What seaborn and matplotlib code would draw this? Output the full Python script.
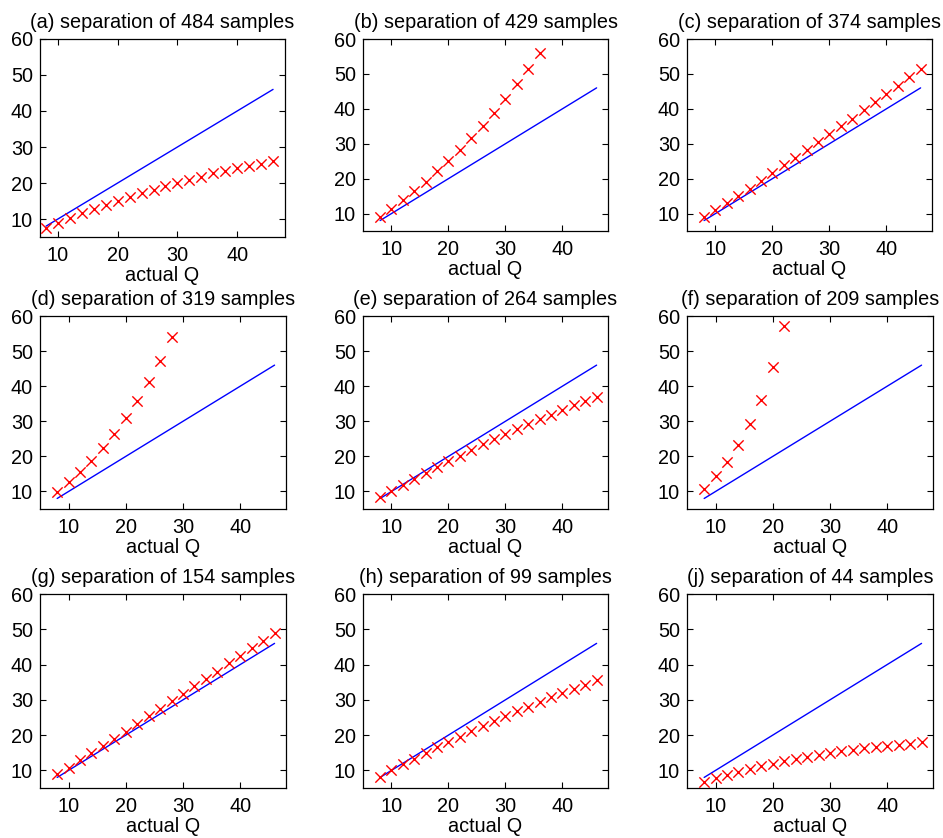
import matplotlib
matplotlib.use("Agg")
import matplotlib.pyplot as plt
import seaborn as sns
import pandas as pd

sns.set_style("ticks")
plt.rcParams['font.family'] = ['Liberation Sans', 'DejaVu Sans']
plt.rcParams['text.color'] = 'black'
plt.rcParams['axes.labelcolor'] = 'black'
plt.rcParams['xtick.color'] = 'black'
plt.rcParams['ytick.color'] = 'black'

# ---- data ----
actual_q = [8, 10, 12, 14, 16, 18, 20, 22, 24, 26, 28, 30, 32, 34, 36, 38, 40, 42, 44, 46]
ideal_x = [8, 46]
ideal_y = [8, 46]

titles = [
    "(a) separation of 484 samples",
    "(b) separation of 429 samples",
    "(c) separation of 374 samples",
    "(d) separation of 319 samples",
    "(e) separation of 264 samples",
    "(f) separation of 209 samples",
    "(g) separation of 154 samples",
    "(h) separation of 99 samples",
    "(j) separation of 44 samples",
]

est_a = [7.4, 8.9, 10.3, 11.7, 12.8, 14.0, 15.1, 16.2, 17.3, 18.1, 19.2, 20.1, 20.9, 21.8, 22.7, 23.3, 24.1, 24.8, 25.4, 26.1]
est_b = [9.0, 11.4, 13.9, 16.4, 19.1, 22.1, 25.1, 28.3, 31.5, 35.1, 38.9, 42.8, 47.0, 51.4, 56.1]
est_c = [8.9, 11.0, 13.0, 15.1, 17.1, 19.3, 21.5, 23.8, 26.0, 28.2, 30.5, 32.8, 35.0, 37.2, 39.6, 41.9, 44.2, 46.6, 49.0, 51.3]
est_d = [9.8, 12.7, 15.5, 18.7, 22.3, 26.4, 30.8, 35.7, 41.1, 47.3, 54.1]
est_e = [8.4, 10.2, 11.9, 13.6, 15.4, 17.0, 18.6, 20.2, 21.9, 23.4, 24.9, 26.4, 27.8, 29.2, 30.6, 31.9, 33.2, 34.5, 35.8, 37.0]
est_f = [10.8, 14.4, 18.3, 23.3, 29.1, 36.2, 45.4, 57.1]
est_g = [8.9, 10.8, 12.8, 14.9, 17.0, 19.0, 21.0, 23.2, 25.3, 27.5, 29.6, 31.7, 33.8, 35.9, 38.0, 40.3, 42.4, 44.6, 46.8, 49.0]
est_h = [8.2, 10.0, 11.7, 13.3, 15.0, 16.6, 18.1, 19.6, 21.1, 22.6, 24.0, 25.4, 26.8, 28.1, 29.4, 30.7, 31.9, 33.1, 34.3, 35.5]
est_j = [6.8, 7.7, 8.8, 9.6, 10.4, 11.1, 11.8, 12.6, 13.2, 13.8, 14.4, 14.9, 15.4, 15.8, 16.2, 16.6, 17.0, 17.3, 17.6, 17.9]

estimates = [est_a, est_b, est_c, est_d, est_e, est_f, est_g, est_h, est_j]
x_lows = [7, 5, 5, 5, 5, 5, 5, 5, 5]

x_ticks = [10, 20, 30, 40]
y_ticks = [10, 20, 30, 40, 50, 60]

# ---- layout (pixel boxes: left, top, right, bottom) ----
W, H = 943, 838
boxes = [
    (40, 39, 285, 237), (363, 39, 608, 231), (687, 39, 932, 231),
    (40, 316, 286, 509), (363, 316, 608, 509), (687, 316, 933, 509),
    (40, 594, 286, 788), (363, 594, 608, 788), (687, 594, 933, 788),
]

fig = plt.figure(figsize=(W / 100, H / 100), dpi=100)
FS = 14.3

for i, (title, est) in enumerate(zip(titles, estimates)):
    l, t, r, b = boxes[i]
    ax = fig.add_axes([l / W, 1 - b / H, (r - l) / W, (b - t) / H])
    line_df = pd.DataFrame({"q": ideal_x, "v": ideal_y})
    pts_df = pd.DataFrame({"q": actual_q[:len(est)], "v": est})
    sns.lineplot(data=line_df, x="q", y="v", ax=ax, color="#0000ff", linewidth=1.0)
    sns.scatterplot(data=pts_df, x="q", y="v", ax=ax, marker="x", color="#ff0000",
                    s=55, linewidth=1.0, zorder=3)
    ax.set_xlim(x_lows[i], 48)
    ax.set_ylim(5, 60)
    ax.set_xticks(x_ticks)
    ax.set_yticks(y_ticks)
    ax.tick_params(direction="in", length=4, width=0.8, top=True, right=True,
                   labelsize=FS, colors="black")
    ax.tick_params(axis="x", pad=6.5)
    ax.tick_params(axis="y", pad=5)
    for sp in ax.spines.values():
        sp.set_visible(True)
        sp.set_linewidth(0.9)
        sp.set_color("black")
    ax.set_title(title, fontsize=FS, pad=8, color="black")
    ax.set_xlabel("actual Q", fontsize=FS, labelpad=1, color="black")
    ax.set_ylabel("")

fig.savefig("out.png", dpi=100)
